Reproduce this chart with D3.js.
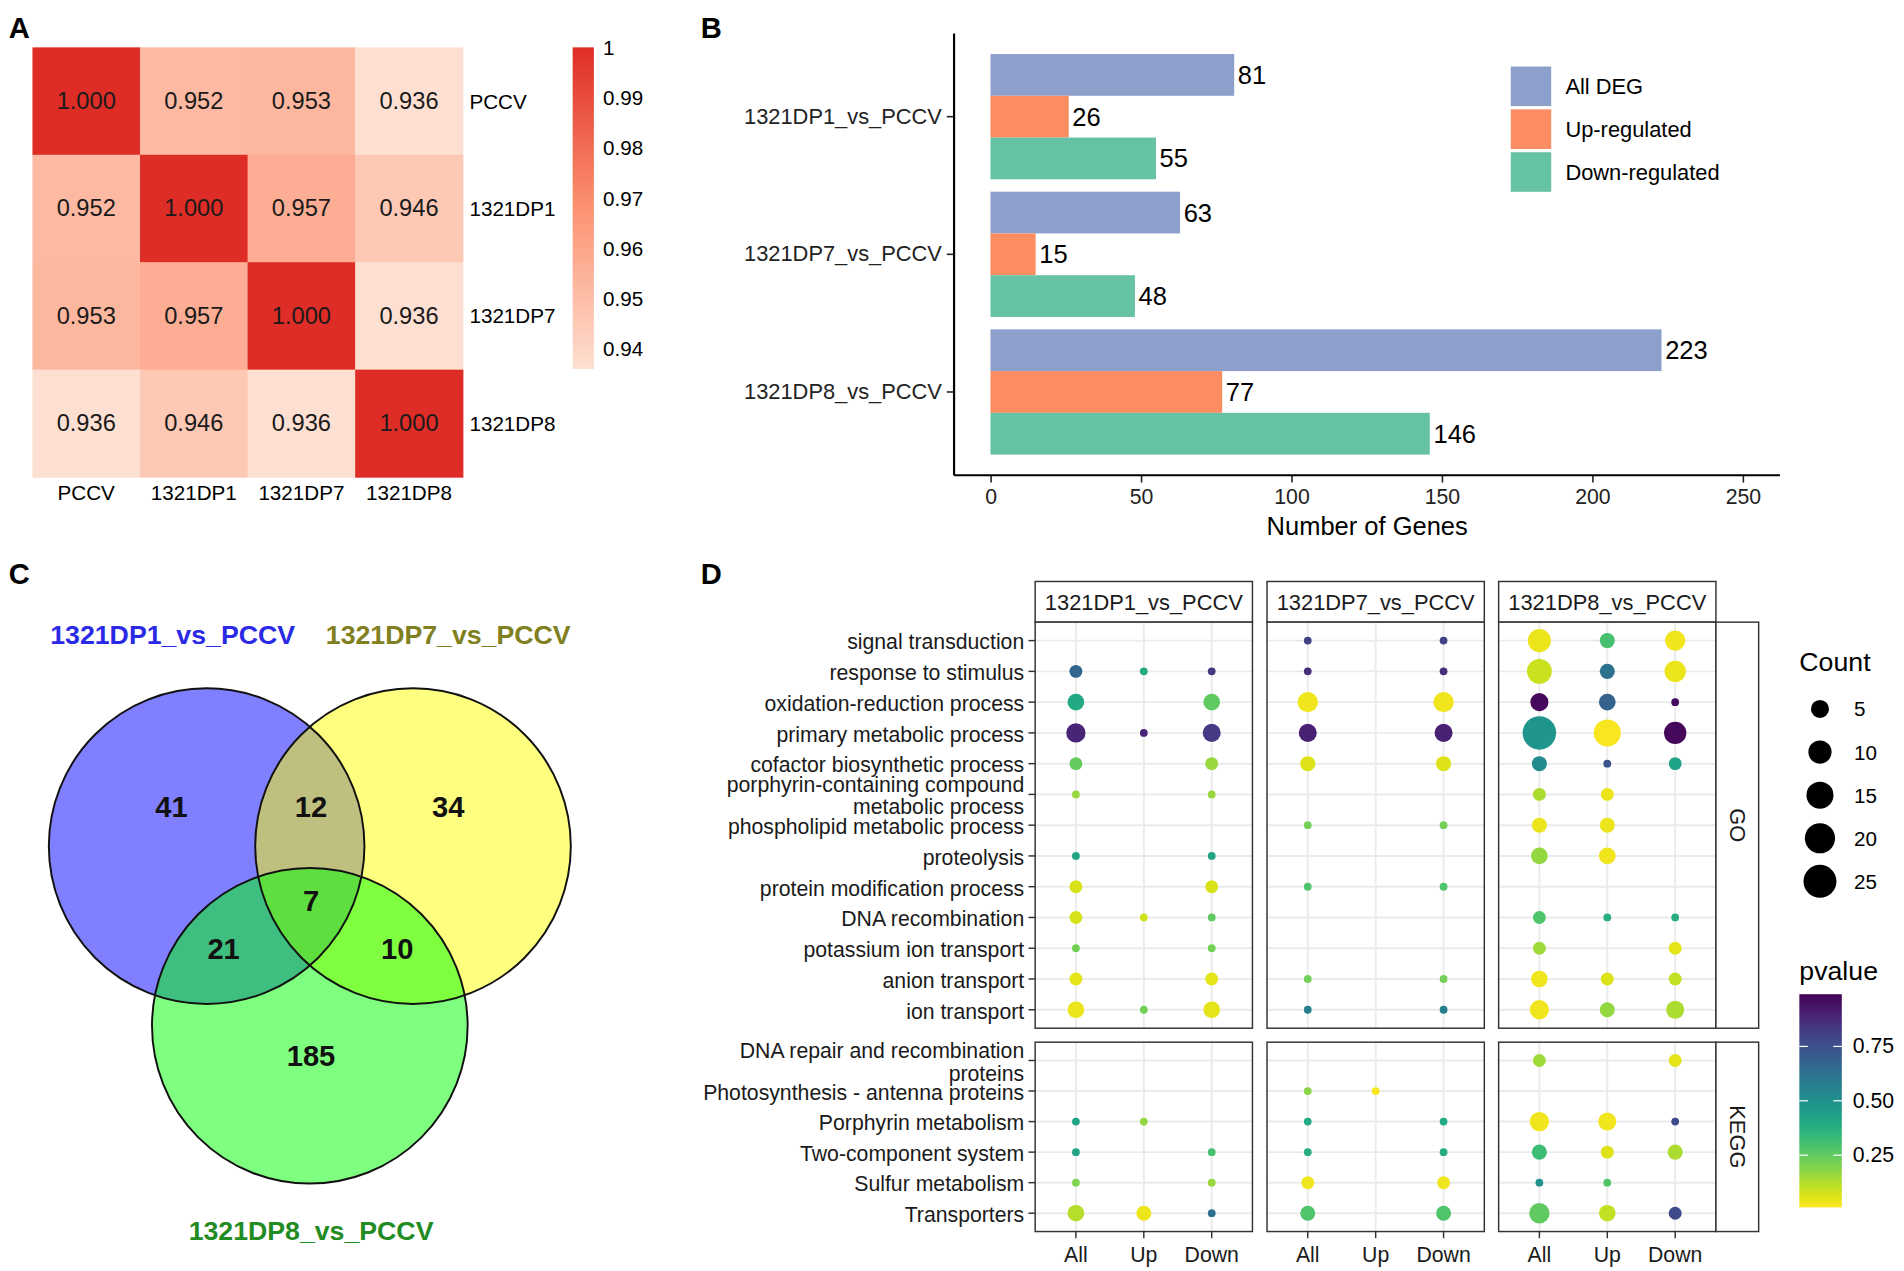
<!DOCTYPE html>
<html>
<head>
<meta charset="utf-8">
<script src="https://cdn.jsdelivr.net/npm/d3@7"></script>
<style>
  body { margin: 0; background: #fff; }
  svg { display: block; font-family: "Liberation Sans", Arial, sans-serif; }
</style>
</head>
<body>
<svg id="fig"></svg>
<script>
// ---- data ----
// A: correlation heatmap
const samples = ["PCCV", "1321DP1", "1321DP7", "1321DP8"];
const corrMatrix = [
  [1.000, 0.952, 0.953, 0.936],
  [0.952, 1.000, 0.957, 0.946],
  [0.953, 0.957, 1.000, 0.936],
  [0.936, 0.946, 0.936, 1.000]
];
const corrTicks = [1, 0.99, 0.98, 0.97, 0.96, 0.95, 0.94];

// B: DEG counts
const degComparisons = ["1321DP1_vs_PCCV", "1321DP7_vs_PCCV", "1321DP8_vs_PCCV"];
const degSeries = ["All DEG", "Up-regulated", "Down-regulated"];
const degAll = [81, 63, 223];
const degUp = [26, 15, 77];
const degDown = [55, 48, 146];
const degTicks = [0, 50, 100, 150, 200, 250];

// C: venn
const vennSets = ["1321DP1_vs_PCCV", "1321DP7_vs_PCCV", "1321DP8_vs_PCCV"];
const vennRegions = ["100", "010", "001", "110", "101", "011", "111"];
const vennCounts = [41, 34, 185, 12, 21, 10, 7];

// D: enrichment dot plot
const goTerms = ["signal transduction", "response to stimulus", "oxidation-reduction process",
  "primary metabolic process", "cofactor biosynthetic process",
  "porphyrin-containing compound metabolic process", "phospholipid metabolic process",
  "proteolysis", "protein modification process", "DNA recombination",
  "potassium ion transport", "anion transport", "ion transport"];
const keggTerms = ["DNA repair and recombination proteins", "Photosynthesis - antenna proteins",
  "Porphyrin metabolism", "Two-component system", "Sulfur metabolism", "Transporters"];
const dotTypes = ["All", "Up", "Down"];
const countTicks = [5, 10, 15, 20, 25];
const pvalueTicks = [0.25, 0.50, 0.75];

// [term, type, count, pvalue]
const dp1Enrich = [
  ["response to stimulus", "All", 2, 0.67], ["response to stimulus", "Up", 1, 0.40], ["response to stimulus", "Down", 1, 0.83],
  ["oxidation-reduction process", "All", 4, 0.40], ["oxidation-reduction process", "Down", 4, 0.25],
  ["primary metabolic process", "All", 6, 0.89], ["primary metabolic process", "Up", 1, 0.89], ["primary metabolic process", "Down", 5, 0.82],
  ["cofactor biosynthetic process", "All", 2, 0.24], ["cofactor biosynthetic process", "Down", 2, 0.16],
  ["porphyrin-containing compound metabolic process", "All", 1, 0.16], ["porphyrin-containing compound metabolic process", "Down", 1, 0.16],
  ["proteolysis", "All", 1, 0.42], ["proteolysis", "Down", 1, 0.42],
  ["protein modification process", "All", 2, 0.07], ["protein modification process", "Down", 2, 0.07],
  ["DNA recombination", "All", 2, 0.07], ["DNA recombination", "Up", 1, 0.08], ["DNA recombination", "Down", 1, 0.25],
  ["potassium ion transport", "All", 1, 0.22], ["potassium ion transport", "Down", 1, 0.22],
  ["anion transport", "All", 2, 0.05], ["anion transport", "Down", 2, 0.05],
  ["ion transport", "All", 4, 0.04], ["ion transport", "Up", 1, 0.22], ["ion transport", "Down", 4, 0.05],
  ["Porphyrin metabolism", "All", 1, 0.42], ["Porphyrin metabolism", "Up", 1, 0.17],
  ["Two-component system", "All", 1, 0.42], ["Two-component system", "Down", 1, 0.30],
  ["Sulfur metabolism", "All", 1, 0.20], ["Sulfur metabolism", "Down", 1, 0.16],
  ["Transporters", "All", 4, 0.12], ["Transporters", "Up", 3, 0.04], ["Transporters", "Down", 1, 0.62]
];
const dp7Enrich = [
  ["signal transduction", "All", 1, 0.80], ["signal transduction", "Down", 1, 0.80],
  ["response to stimulus", "All", 1, 0.86], ["response to stimulus", "Down", 1, 0.86],
  ["oxidation-reduction process", "All", 7, 0.03], ["oxidation-reduction process", "Down", 7, 0.03],
  ["primary metabolic process", "All", 5, 0.90], ["primary metabolic process", "Down", 5, 0.90],
  ["cofactor biosynthetic process", "All", 3, 0.06], ["cofactor biosynthetic process", "Down", 3, 0.06],
  ["phospholipid metabolic process", "All", 1, 0.22], ["phospholipid metabolic process", "Down", 1, 0.22],
  ["protein modification process", "All", 1, 0.28], ["protein modification process", "Down", 1, 0.28],
  ["anion transport", "All", 1, 0.22], ["anion transport", "Down", 1, 0.22],
  ["ion transport", "All", 1, 0.57], ["ion transport", "Down", 1, 0.57],
  ["Photosynthesis - antenna proteins", "All", 1, 0.18], ["Photosynthesis - antenna proteins", "Up", 1, 0.02],
  ["Porphyrin metabolism", "All", 1, 0.40], ["Porphyrin metabolism", "Down", 1, 0.40],
  ["Two-component system", "All", 1, 0.38], ["Two-component system", "Down", 1, 0.38],
  ["Sulfur metabolism", "All", 2, 0.03], ["Sulfur metabolism", "Down", 2, 0.03],
  ["Transporters", "All", 3, 0.28], ["Transporters", "Down", 3, 0.28]
];
const dp8Enrich = [
  ["signal transduction", "All", 10, 0.04], ["signal transduction", "Up", 3, 0.30], ["signal transduction", "Down", 7, 0.03],
  ["response to stimulus", "All", 12, 0.09], ["response to stimulus", "Up", 3, 0.62], ["response to stimulus", "Down", 8, 0.04],
  ["oxidation-reduction process", "All", 5, 0.97], ["oxidation-reduction process", "Up", 4, 0.68], ["oxidation-reduction process", "Down", 1, 0.97],
  ["primary metabolic process", "All", 26, 0.48], ["primary metabolic process", "Up", 15, 0.02], ["primary metabolic process", "Down", 9, 0.97],
  ["cofactor biosynthetic process", "All", 3, 0.52], ["cofactor biosynthetic process", "Up", 1, 0.74], ["cofactor biosynthetic process", "Down", 2, 0.42],
  ["porphyrin-containing compound metabolic process", "All", 2, 0.13], ["porphyrin-containing compound metabolic process", "Up", 2, 0.04],
  ["phospholipid metabolic process", "All", 3, 0.04], ["phospholipid metabolic process", "Up", 3, 0.04],
  ["proteolysis", "All", 4, 0.17], ["proteolysis", "Up", 4, 0.03],
  ["DNA recombination", "All", 2, 0.28], ["DNA recombination", "Up", 1, 0.38], ["DNA recombination", "Down", 1, 0.38],
  ["potassium ion transport", "All", 2, 0.15], ["potassium ion transport", "Down", 2, 0.05],
  ["anion transport", "All", 4, 0.03], ["anion transport", "Up", 2, 0.06], ["anion transport", "Down", 2, 0.10],
  ["ion transport", "All", 6, 0.03], ["ion transport", "Up", 3, 0.17], ["ion transport", "Down", 5, 0.13],
  ["DNA repair and recombination proteins", "All", 2, 0.15], ["DNA repair and recombination proteins", "Down", 2, 0.05],
  ["Porphyrin metabolism", "All", 6, 0.03], ["Porphyrin metabolism", "Up", 5, 0.03], ["Porphyrin metabolism", "Down", 1, 0.77],
  ["Two-component system", "All", 3, 0.32], ["Two-component system", "Up", 2, 0.06], ["Two-component system", "Down", 3, 0.13],
  ["Sulfur metabolism", "All", 1, 0.50], ["Sulfur metabolism", "Up", 1, 0.28],
  ["Transporters", "All", 7, 0.25], ["Transporters", "Up", 4, 0.10], ["Transporters", "Down", 2, 0.77]
];
const enrichByComparison = [dp1Enrich, dp7Enrich, dp8Enrich];

// ---- setup ----
const W = 1568, H = 1047;
const svg = d3.select("#fig")
  .attr("width", 1904).attr("height", 1271)
  .attr("viewBox", `0 0 ${W} ${H}`);
const defs = svg.append("defs");

// panel letters
[["A", 7, 31], ["B", 577, 31], ["C", 7, 481], ["D", 577, 481]].forEach(([t, x, y]) => {
  svg.append("text").attr("x", x).attr("y", y).attr("font-size", 24).attr("font-weight", "bold").text(t);
});

// ---- A: heatmap ----
const hx = d3.scaleBand().domain(samples).range([26.5, 381]);
const hy = d3.scaleBand().domain(samples).range([39, 393]);
const corrColor = d3.scaleLinear().domain([0.936, 0.968, 1]).range(["#fee0d2", "#fc9272", "#de2d26"]);
const cells = samples.flatMap((r, i) => samples.map((c, j) => ({ r, c, v: corrMatrix[i][j] })));
const gA = svg.append("g");
gA.selectAll("rect").data(cells).join("rect")
  .attr("x", d => hx(d.c)).attr("y", d => hy(d.r))
  .attr("width", hx.bandwidth() + 0.5).attr("height", hy.bandwidth() + 0.5)
  .attr("fill", d => corrColor(d.v));
gA.selectAll(".val").data(cells).join("text").attr("class", "val")
  .attr("x", d => hx(d.c) + hx.bandwidth() / 2).attr("y", d => hy(d.r) + hy.bandwidth() / 2)
  .attr("text-anchor", "middle").attr("dominant-baseline", "central")
  .attr("font-size", 19.5).attr("fill", "#1a1a1a")
  .text(d => d.v.toFixed(3));
gA.selectAll(".rowlab").data(samples).join("text").attr("class", "rowlab")
  .attr("x", 386.5).attr("y", d => hy(d) + hy.bandwidth() / 2)
  .attr("dominant-baseline", "central").attr("font-size", 17).text(d => d);
gA.selectAll(".collab").data(samples).join("text").attr("class", "collab")
  .attr("x", d => hx(d) + hx.bandwidth() / 2).attr("y", 406)
  .attr("text-anchor", "middle").attr("dominant-baseline", "central").attr("font-size", 17).text(d => d);

// colour bar
const cbY = d3.scaleLinear().domain([0.936, 1]).range([304, 39]);
const gradA = defs.append("linearGradient").attr("id", "gradA")
  .attr("x1", 0).attr("y1", 1).attr("x2", 0).attr("y2", 0);
d3.range(0, 1.0001, 0.05).forEach(t => {
  gradA.append("stop").attr("offset", t).attr("stop-color", corrColor(0.936 + t * 0.064));
});
gA.append("rect").attr("x", 471.5).attr("y", cbY(1)).attr("width", 17.5)
  .attr("height", cbY(0.936) - cbY(1)).attr("fill", "url(#gradA)");
gA.selectAll(".cbt").data(corrTicks).join("text").attr("class", "cbt")
  .attr("x", 496.5).attr("y", d => cbY(d)).attr("dominant-baseline", "central")
  .attr("font-size", 17).text(d => d === 1 ? "1" : d3.format(".2f")(d));

// ---- B: grouped bars ----
const bx = d3.scaleLinear().domain([0, 250]).range([815.7, 1435.4]);
const by = d3.scaleBand().domain(degComparisons).range([27.5, 391.5]).paddingInner(0.09).paddingOuter(0.15);
const bsub = d3.scaleBand().domain(degSeries).range([0, by.bandwidth()]);
const degColors = ["#8DA0CB", "#FC8D62", "#66C2A5"];
const degValues = [degAll, degUp, degDown];
const barData = degComparisons.flatMap((c, i) => degSeries.map((s, k) => ({ c, s, k, v: degValues[k][i] })));
const gB = svg.append("g");
gB.selectAll("rect").data(barData).join("rect")
  .attr("x", bx(0)).attr("y", d => by(d.c) + bsub(d.s))
  .attr("width", d => bx(d.v) - bx(0)).attr("height", bsub.bandwidth())
  .attr("fill", d => degColors[d.k]);
gB.selectAll(".bval").data(barData).join("text").attr("class", "bval")
  .attr("x", d => bx(d.v) + 3).attr("y", d => by(d.c) + bsub(d.s) + bsub.bandwidth() / 2)
  .attr("dominant-baseline", "central").attr("font-size", 21).text(d => d.v);

const xAxisB = gB.append("g").attr("transform", "translate(0,391.5)")
  .call(d3.axisBottom(bx).tickValues(degTicks).tickSize(6).tickPadding(5))
  .attr("font-family", null).attr("font-size", null);
xAxisB.select(".domain").remove();
xAxisB.selectAll("line").attr("stroke", "#222").attr("stroke-width", 1.3);
xAxisB.selectAll("text").attr("font-size", 17.5).attr("fill", "#222");
const yAxisB = gB.append("g").attr("transform", "translate(785.7,0)")
  .call(d3.axisLeft(by).tickSize(6).tickPadding(4))
  .attr("font-family", null).attr("font-size", null);
yAxisB.select(".domain").remove();
yAxisB.selectAll("line").attr("stroke", "#222").attr("stroke-width", 1.3);
yAxisB.selectAll("text").attr("font-size", 18).attr("fill", "#222");
gB.append("line").attr("x1", 785.7).attr("x2", 1466).attr("y1", 391.5).attr("y2", 391.5)
  .attr("stroke", "#000").attr("stroke-width", 1.8);
gB.append("line").attr("x1", 785.7).attr("x2", 785.7).attr("y1", 27.5).attr("y2", 391.5)
  .attr("stroke", "#000").attr("stroke-width", 1.8);
gB.append("text").attr("x", 1126).attr("y", 441).attr("text-anchor", "middle")
  .attr("font-size", 21).text("Number of Genes");

const legB = gB.selectAll(".legB").data(degSeries).join("g").attr("class", "legB")
  .attr("transform", (d, i) => `translate(1244.3,${54.8 + i * 35.3})`);
legB.append("rect").attr("width", 33.3).attr("height", 32.6).attr("fill", (d, i) => degColors[i]);
legB.append("text").attr("x", 45).attr("y", 16.3).attr("dominant-baseline", "central")
  .attr("font-size", 18).text(d => d);

// ---- C: venn ----
const vennCircles = [{ cx: 170, cy: 697 }, { cx: 340, cy: 697 }, { cx: 255, cy: 845 }];
const vennR = 130;
const vennFill = ["#0000ff", "#ffff00", "#00ff00"];
const vennTitleColor = ["#2a2ae6", "#808020", "#228B22"];
const vennTitlePos = [[142, 523], [369, 523], [256, 1014]];
const vennLabelPos = { "100": [141, 665], "010": [369, 665], "001": [256, 870],
  "110": [256, 665], "101": [184, 782], "011": [327, 782], "111": [256, 742] };
const gC = svg.append("g");
gC.selectAll(".vfill").data(vennCircles).join("circle").attr("class", "vfill")
  .attr("cx", d => d.cx).attr("cy", d => d.cy).attr("r", vennR)
  .attr("fill", (d, i) => vennFill[i]).attr("fill-opacity", 0.5);
gC.selectAll(".vline").data(vennCircles).join("circle").attr("class", "vline")
  .attr("cx", d => d.cx).attr("cy", d => d.cy).attr("r", vennR)
  .attr("fill", "none").attr("stroke", "#111").attr("stroke-width", 1.6);
gC.selectAll(".vnum").data(vennRegions).join("text").attr("class", "vnum")
  .attr("x", d => vennLabelPos[d][0]).attr("y", d => vennLabelPos[d][1])
  .attr("text-anchor", "middle").attr("dominant-baseline", "central")
  .attr("font-size", 24).attr("font-weight", "bold").attr("fill", "#111")
  .text((d, i) => vennCounts[i]);
gC.selectAll(".vtitle").data(vennSets).join("text").attr("class", "vtitle")
  .attr("x", (d, i) => vennTitlePos[i][0]).attr("y", (d, i) => vennTitlePos[i][1])
  .attr("text-anchor", "middle").attr("dominant-baseline", "central")
  .attr("font-size", 22).attr("font-weight", "bold")
  .attr("fill", (d, i) => vennTitleColor[i]).text(d => d);

// ---- D: dot plot ----
const facetX0 = [852.5, 1043.5, 1234.3];
const facetW = 179;
const blocks = [
  { name: "GO", terms: goTerms, y0: 512.5, y1: 847 },
  { name: "KEGG", terms: keggTerms, y0: 858.5, y1: 1014.5 }
];
const pColor = d3.scaleSequential(t => d3.interpolateViridis(1 - t)).domain([0.01, 0.99]);
const countT = d3.scaleLinear().domain([1, 27]).range([0, 1]).clamp(true);
const countR = d3.scaleLinear().domain([0, 1]).range([3.2, 14]);
const rOf = c => countR(Math.sqrt(countT(c)));

function wrapLabel(s) {
  if (s.length <= 34) return [s];
  const lines = [];
  let cur = "";
  s.split(" ").forEach(w => {
    if (cur && (cur + " " + w).length > 30) { lines.push(cur); cur = w; }
    else cur = cur ? cur + " " + w : w;
  });
  lines.push(cur);
  return lines;
}

const gD = svg.append("g");
degComparisons.forEach((comp, f) => {
  const x0 = facetX0[f];
  const px = d3.scalePoint().domain(dotTypes).range([x0, x0 + facetW]).padding(0.6);
  // strip on top
  gD.append("rect").attr("x", x0).attr("y", 479).attr("width", facetW).attr("height", 33.5)
    .attr("fill", "#fff").attr("stroke", "#333").attr("stroke-width", 1.2);
  gD.append("text").attr("x", x0 + facetW / 2).attr("y", 496).attr("text-anchor", "middle")
    .attr("dominant-baseline", "central").attr("font-size", 18).attr("fill", "#1a1a1a").text(comp);

  blocks.forEach(b => {
    const py = d3.scalePoint().domain(b.terms).range([b.y0, b.y1]).padding(0.6);
    const g = gD.append("g");
    g.append("rect").attr("x", x0).attr("y", b.y0).attr("width", facetW).attr("height", b.y1 - b.y0)
      .attr("fill", "#fff");
    g.selectAll(".hg").data(b.terms).join("line").attr("class", "hg")
      .attr("x1", x0).attr("x2", x0 + facetW).attr("y1", d => py(d)).attr("y2", d => py(d))
      .attr("stroke", "#ebebeb").attr("stroke-width", 1.6);
    g.selectAll(".vg").data(dotTypes).join("line").attr("class", "vg")
      .attr("x1", d => px(d)).attr("x2", d => px(d)).attr("y1", b.y0).attr("y2", b.y1)
      .attr("stroke", "#ebebeb").attr("stroke-width", 1.6);
    const pts = enrichByComparison[f].filter(d => b.terms.includes(d[0]));
    g.selectAll(".dot").data(pts).join("circle").attr("class", "dot")
      .attr("cx", d => px(d[1])).attr("cy", d => py(d[0])).attr("r", d => rOf(d[2]))
      .attr("fill", d => pColor(d[3]));
    g.append("rect").attr("x", x0).attr("y", b.y0).attr("width", facetW).attr("height", b.y1 - b.y0)
      .attr("fill", "none").attr("stroke", "#333").attr("stroke-width", 1.2);

    if (f === 0) {
      const labs = g.selectAll(".ylab").data(b.terms).join("text").attr("class", "ylab")
        .attr("text-anchor", "end").attr("font-size", 17.5).attr("fill", "#1a1a1a");
      labs.each(function (d) {
        const lines = wrapLabel(d);
        const t = d3.select(this);
        lines.forEach((ln, i) => {
          t.append("tspan").attr("x", x0 - 9)
            .attr("y", py(d) + 1.5 + (i - (lines.length - 1) / 2) * 18.5)
            .attr("dominant-baseline", "central").text(ln);
        });
      });
      g.selectAll(".ytick").data(b.terms).join("line").attr("class", "ytick")
        .attr("x1", x0 - 5.5).attr("x2", x0).attr("y1", d => py(d)).attr("y2", d => py(d))
        .attr("stroke", "#333").attr("stroke-width", 1.2);
    }
    if (f === 2) {
      gD.append("rect").attr("x", x0 + facetW).attr("y", b.y0).attr("width", 35.2)
        .attr("height", b.y1 - b.y0).attr("fill", "#fff").attr("stroke", "#333").attr("stroke-width", 1.2);
      const cy = (b.y0 + b.y1) / 2, cx = x0 + facetW + 17.6;
      gD.append("text").attr("transform", `translate(${cx},${cy}) rotate(90)`)
        .attr("text-anchor", "middle").attr("dominant-baseline", "central")
        .attr("font-size", 18).attr("fill", "#1a1a1a").text(b.name);
    }
    if (b.name === "KEGG") {
      g.selectAll(".xtick").data(dotTypes).join("line").attr("class", "xtick")
        .attr("x1", d => px(d)).attr("x2", d => px(d)).attr("y1", b.y1).attr("y2", b.y1 + 5.5)
        .attr("stroke", "#333").attr("stroke-width", 1.2);
      g.selectAll(".xlab").data(dotTypes).join("text").attr("class", "xlab")
        .attr("x", d => px(d)).attr("y", 1034).attr("text-anchor", "middle")
        .attr("dominant-baseline", "central").attr("font-size", 17.5).attr("fill", "#1a1a1a").text(d => d);
    }
  });
});

// legends for D
gD.append("text").attr("x", 1482).attr("y", 553).attr("font-size", 22).text("Count");
const legCount = d3.scalePoint().domain(countTicks).range([584, 726]);
gD.selectAll(".lcd").data(countTicks).join("circle").attr("class", "lcd")
  .attr("cx", 1499).attr("cy", d => legCount(d)).attr("r", d => rOf(d)).attr("fill", "#000");
gD.selectAll(".lct").data(countTicks).join("text").attr("class", "lct")
  .attr("x", 1527).attr("y", d => legCount(d)).attr("dominant-baseline", "central")
  .attr("font-size", 17).text(d => d);

gD.append("text").attr("x", 1482).attr("y", 807).attr("font-size", 22).text("pvalue");
const cbP = d3.scaleLinear().domain([0.01, 0.99]).range([994.6, 819]);
const gradD = defs.append("linearGradient").attr("id", "gradD")
  .attr("x1", 0).attr("y1", 1).attr("x2", 0).attr("y2", 0);
d3.range(0, 1.0001, 0.05).forEach(t => {
  gradD.append("stop").attr("offset", t).attr("stop-color", pColor(0.01 + t * 0.98));
});
gD.append("rect").attr("x", 1482).attr("y", cbP(0.99)).attr("width", 35)
  .attr("height", cbP(0.01) - cbP(0.99)).attr("fill", "url(#gradD)");
pvalueTicks.forEach(v => {
  [[1482, 1489], [1510, 1517]].forEach(([a, b2]) => {
    gD.append("line").attr("x1", a).attr("x2", b2).attr("y1", cbP(v)).attr("y2", cbP(v))
      .attr("stroke", "#fff").attr("stroke-width", 1);
  });
});
gD.selectAll(".pvt").data(pvalueTicks).join("text").attr("class", "pvt")
  .attr("x", 1526).attr("y", d => cbP(d)).attr("dominant-baseline", "central")
  .attr("font-size", 17.5).text(d => d3.format(".2f")(d));
</script>
</body>
</html>
